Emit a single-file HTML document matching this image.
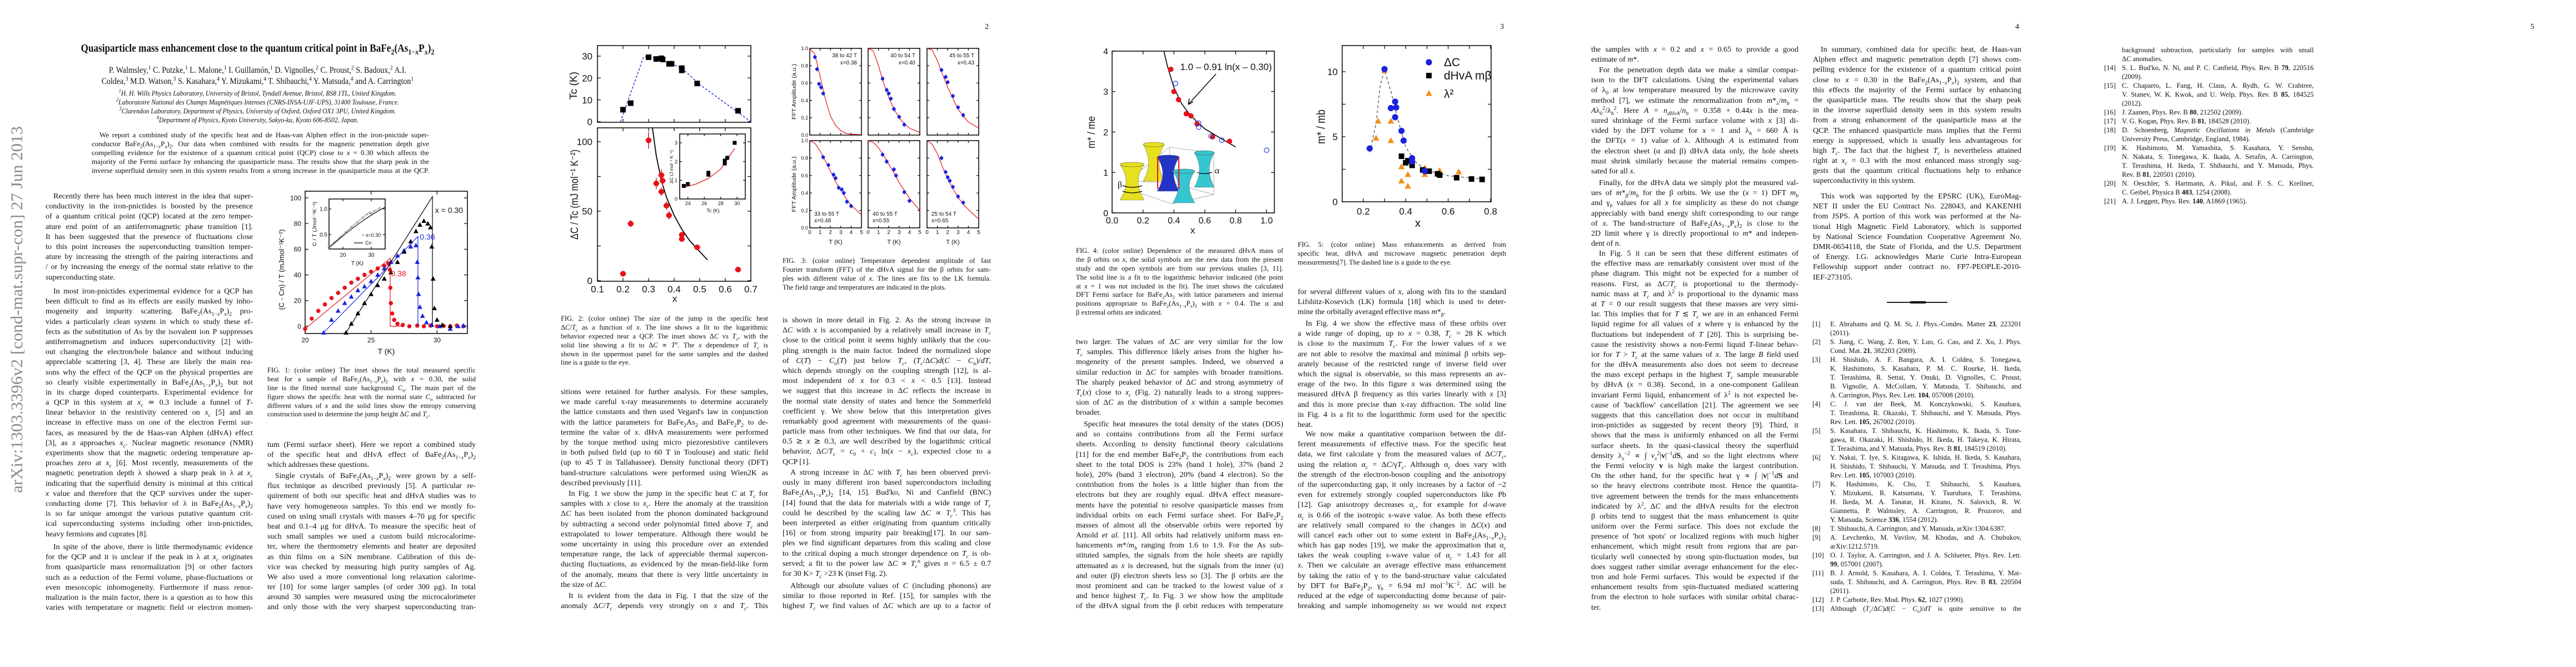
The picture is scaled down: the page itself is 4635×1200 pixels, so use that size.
<!DOCTYPE html>
<html><head><meta charset="utf-8"><title>Quasiparticle mass enhancement close to the quantum critical point</title>
<style>
html,body{margin:0;padding:0;background:#fff;}
body{width:4635px;height:1200px;position:relative;overflow:hidden;font-family:"Liberation Serif",serif;color:#111;}
.page{position:absolute;top:0;width:927px;height:1200px;}
.col{position:absolute;font-size:14px;line-height:18.2px;}
.col div{white-space:nowrap;text-align:justify;text-align-last:justify;height:18.2px;position:relative;}
.col div.e{text-align-last:left;}
.col div.i{text-indent:14px;}
.cap{font-size:12.5px;line-height:15.9px;}
.cap div{height:15.9px;}
.ref{font-size:12.5px;line-height:16px;}
.ref div{height:16px;}
.n{position:absolute;left:-32px;width:27px;text-align:right;text-indent:0;}
sub,sup{font-size:70%;line-height:0;}
.ctr{position:absolute;left:0;width:927px;text-align:center;white-space:nowrap;}
.pn{position:absolute;left:845px;top:41px;font-size:14px;}
svg.fig{position:absolute;left:0;top:0;}
svg text{font-family:"Liberation Sans",sans-serif;}
</style></head><body>

<!-- ================= PAGE 1 ================= -->
<div class="page" style="left:0">
<svg class="fig" id="p1" width="927" height="1200">
<text x="46" y="563" font-size="30" fill="#8a8a8a" text-anchor="middle" transform="rotate(-90 40 563)" textLength="660" lengthAdjust="spacingAndGlyphs" style="font-family:'Liberation Serif',serif">arXiv:1303.3396v2  [cond-mat.supr-con]  27 Jun 2013</text>
</svg>
<div class="ctr" style="top:76px;font-size:20px;font-weight:bold;transform:scaleX(0.86);">Quasiparticle mass enhancement close to the quantum critical point in BaFe<sub>2</sub>(As<sub>1−<i>x</i></sub>P<sub><i>x</i></sub>)<sub>2</sub></div>
<div class="ctr" style="top:117px;font-size:15.5px;line-height:20px;transform:scaleX(0.9);">P. Walmsley,<sup>1</sup> C. Putzke,<sup>1</sup> L. Malone,<sup>1</sup> I. Guillamón,<sup>1</sup> D. Vignolles,<sup>2</sup> C. Proust,<sup>2</sup> S. Badoux,<sup>2</sup> A.I.<br>Coldea,<sup>3</sup> M.D. Watson,<sup>3</sup> S. Kasahara,<sup>4</sup> Y. Mizukami,<sup>4</sup> T. Shibauchi,<sup>4</sup> Y. Matsuda,<sup>4</sup> and A. Carrington<sup>1</sup></div>
<div class="ctr" style="top:160px;font-size:13px;line-height:16px;font-style:italic;transform:scaleX(0.9);"><sup>1</sup>H. H. Wills Physics Laboratory, University of Bristol, Tyndall Avenue, Bristol, BS8 1TL, United Kingdom.<br><sup>2</sup>Laboratoire National des Champs Magnétiques Intenses (CNRS-INSA-UJF-UPS), 31400 Toulouse, France.<br><sup>3</sup>Clarendon Laboratory, Department of Physics, University of Oxford, Oxford OX1 3PU, United Kingdom.<br><sup>4</sup>Department of Physics, Kyoto University, Sakyo-ku, Kyoto 606-8502, Japan.</div>
<div class="col" style="left:165px;top:235px;width:607px;font-size:13px;line-height:16px;">
<div class="i" style="height:16px">We report a combined study of the specific heat and de Haas-van Alphen effect in the iron-pnictide super-</div>
<div style="height:16px">conductor BaFe<sub>2</sub>(As<sub>1−<i>x</i></sub>P<sub><i>x</i></sub>)<sub>2</sub>. Our data when combined with results for the magnetic penetration depth give</div>
<div style="height:16px">compelling evidence for the existence of a quantum critical point (QCP) close to <i>x</i> = 0.30 which affects the</div>
<div style="height:16px">majority of the Fermi surface by enhancing the quasiparticle mass. The results show that the sharp peak in the</div>
<div style="height:16px">inverse superfluid density seen in this system results from a strong increase in the quasiparticle mass at the QCP.</div>
</div>
<div class="col" style="left:82px;top:345px;width:373px;">
<div class="i">Recently there has been much interest in the idea that super-</div>
<div>conductivity in the iron-pnictides is boosted by the presence</div>
<div>of a quantum critical point (QCP) located at the zero temper-</div>
<div>ature end point of an antiferromagnetic phase transition [1].</div>
<div>It has been suggested that the presence of fluctuations close</div>
<div>to this point increases the superconducting transition temper-</div>
<div>ature by increasing the strength of the pairing interactions and</div>
<div>/ or by increasing the energy of the normal state relative to the</div>
<div class="e">superconducting state.</div>
</div>
<div class="col" style="left:82px;top:516px;width:373px;">
<div class="i">In most iron-pnictides experimental evidence for a QCP has</div>
<div>been difficult to find as its effects are easily masked by inho-</div>
<div>mogeneity and impurity scattering. BaFe<sub>2</sub>(As<sub>1−<i>x</i></sub>P<sub><i>x</i></sub>)<sub>2</sub> pro-</div>
<div>vides a particularly clean system in which to study these ef-</div>
<div>fects as the substitution of As by the isovalent ion P suppresses</div>
<div>antiferromagnetism and induces superconductivity [2] with-</div>
<div>out changing the electron/hole balance and without inducing</div>
<div>appreciable scattering [3, 4]. These are likely the main rea-</div>
<div>sons why the effect of the QCP on the physical properties are</div>
<div>so clearly visible experimentally in BaFe<sub>2</sub>(As<sub>1−<i>x</i></sub>P<sub><i>x</i></sub>)<sub>2</sub> but not</div>
<div>in its charge doped counterparts. Experimental evidence for</div>
<div>a QCP in this system at <i>x<sub>c</sub></i> ≃ 0.3 include a funnel of <i>T</i>-</div>
<div>linear behavior in the resistivity centered on <i>x<sub>c</sub></i> [5] and an</div>
<div>increase in effective mass on one of the electron Fermi sur-</div>
<div>faces, as measured by the de Haas-van Alphen (dHvA) effect</div>
<div>[3], as <i>x</i> approaches <i>x<sub>c</sub></i>. Nuclear magnetic resonance (NMR)</div>
<div>experiments show that the magnetic ordering temperature ap-</div>
<div>proaches zero at <i>x<sub>c</sub></i> [6]. Most recently, measurements of the</div>
<div>magnetic penetration depth λ showed a sharp peak in λ at <i>x<sub>c</sub></i></div>
<div>indicating that the superfluid density is minimal at this critical</div>
<div><i>x</i> value and therefore that the QCP survives under the super-</div>
<div>conducting dome [7]. This behavior of λ in BaFe<sub>2</sub>(As<sub>1−<i>x</i></sub>P<sub><i>x</i></sub>)<sub>2</sub></div>
<div>is so far unique amongst the various putative quantum crit-</div>
<div>ical superconducting systems including other iron-pnictides,</div>
<div class="e">heavy fermions and cuprates [8].</div>
</div>
<div class="col" style="left:82px;top:976px;width:373px;">
<div class="i">In spite of the above, there is little thermodynamic evidence</div>
<div>for the QCP and it is unclear if the peak in λ at <i>x<sub>c</sub></i> originates</div>
<div>from quasiparticle mass renormalization [9] or other factors</div>
<div>such as a reduction of the Fermi volume, phase-fluctuations or</div>
<div>even mesoscopic inhomogeneity. Furthermore if mass renor-</div>
<div>malization is the main factor, there is a question as to how this</div>
<div>varies with temperature or magnetic field or electron momen-</div>
</div>
<div class="col cap" style="left:481px;top:659px;width:375px;">
<div>FIG. 1: (color online) The inset shows the total measured specific</div>
<div>heat for a sample of BaFe<sub>2</sub>(As<sub>1−<i>x</i></sub>P<sub><i>x</i></sub>)<sub>2</sub> with <i>x</i> = 0.30, the solid</div>
<div>line is the fitted normal state background <i>C<sub>n</sub></i>. The main part of the</div>
<div>figure shows the specific heat with the normal state <i>C<sub>n</sub></i> subtracted for</div>
<div>different values of <i>x</i> and the solid lines show the entropy conserving</div>
<div class="e">construction used to determine the jump height Δ<i>C</i> and <i>T<sub>c</sub></i>.</div>
</div>
<div class="col" style="left:481px;top:792px;width:375px;">
<div>tum (Fermi surface sheet). Here we report a combined study</div>
<div>of the specific heat and dHvA effect of BaFe<sub>2</sub>(As<sub>1−<i>x</i></sub>P<sub><i>x</i></sub>)<sub>2</sub></div>
<div class="e">which addresses these questions.</div>
</div>
<div class="col" style="left:481px;top:848px;width:375px;">
<div class="i">Single crystals of BaFe<sub>2</sub>(As<sub>1−<i>x</i></sub>P<sub><i>x</i></sub>)<sub>2</sub> were grown by a self-</div>
<div>flux technique as described previously [5]. A particular re-</div>
<div>quirement of both our specific heat and dHvA studies was to</div>
<div>have very homogeneous samples. To this end we mostly fo-</div>
<div>cused on using small crystals with masses 4–70 μg for specific</div>
<div>heat and 0.1–4 μg for dHvA. To measure the specific heat of</div>
<div>such small samples we used a custom build microcalorime-</div>
<div>ter, where the thermometry elements and heater are deposited</div>
<div>as thin films on a SiN membrane. Calibration of this de-</div>
<div>vice was checked by measuring high purity samples of Ag.</div>
<div>We also used a more conventional long relaxation calorime-</div>
<div>ter [10] for some larger samples (of order 300 μg). In total</div>
<div>around 30 samples were measured using the microcalorimeter</div>
<div>and only those with the very sharpest superconducting tran-</div>
</div>
</div>

<!-- ================= PAGE 2 ================= -->
<div class="page" style="left:927px">
<svg class="fig" id="p2" width="927" height="1200"></svg>
<div class="pn">2</div>
<div class="col cap" style="left:82px;top:566px;width:373px;line-height:15.7px">
<div>FIG. 2: (color online) The size of the jump in the specific heat</div>
<div>Δ<i>C</i>/<i>T<sub>c</sub></i> as a function of <i>x</i>. The line shows a fit to the logarithmic</div>
<div>behavior expected near a QCP. The inset shows Δ<i>C</i> vs <i>T<sub>c</sub></i>, with the</div>
<div>solid line showing a fit to Δ<i>C</i> ∝ <i>T<sup>n</sup></i>. The <i>x</i> dependence of <i>T<sub>c</sub></i> is</div>
<div>shown in the uppermost panel for the same samples and the dashed</div>
<div class="e">line is a guide to the eye.</div>
</div>
<div class="col" style="left:82px;top:697px;width:373px;">
<div>sitions were retained for further analysis. For these samples,</div>
<div>we made careful x-ray measurements to determine accurately</div>
<div>the lattice constants and then used Vegard's law in conjunction</div>
<div>with the lattice parameters for BaFe<sub>2</sub>As<sub>2</sub> and BaFe<sub>2</sub>P<sub>2</sub> to de-</div>
<div>termine the value of <i>x</i>. dHvA measurements were performed</div>
<div>by the torque method using micro piezoresistive cantilevers</div>
<div>in both pulsed field (up to 60 T in Toulouse) and static field</div>
<div>(up to 45 T in Tallahassee). Density functional theory (DFT)</div>
<div>band-structure calculations were performed using Wien2K as</div>
<div class="e">described previously [11].</div>
</div>
<div class="col" style="left:82px;top:880px;width:373px;">
<div class="i">In Fig. 1 we show the jump in the specific heat <i>C</i> at <i>T<sub>c</sub></i> for</div>
<div>samples with <i>x</i> close to <i>x<sub>c</sub></i>. Here the anomaly at the transition</div>
<div>Δ<i>C</i> has been isolated from the phonon dominated background</div>
<div>by subtracting a second order polynomial fitted above <i>T<sub>c</sub></i> and</div>
<div>extrapolated to lower temperature. Although there would be</div>
<div>some uncertainty in using this procedure over an extended</div>
<div>temperature range, the lack of appreciable thermal supercon-</div>
<div>ducting fluctuations, as evidenced by the mean-field-like form</div>
<div>of the anomaly, means that there is very little uncertainty in</div>
<div class="e">the size of Δ<i>C</i>.</div>
</div>
<div class="col" style="left:82px;top:1064px;width:373px;">
<div class="i">It is evident from the data in Fig. 1 that the size of the</div>
<div>anomaly Δ<i>C</i>/<i>T<sub>c</sub></i> depends very strongly on <i>x</i> and <i>T<sub>c</sub></i>. This</div>
</div>
<div class="col cap" style="left:481px;top:461px;width:375px;line-height:16px">
<div>FIG. 3: (color online) Temperature dependent amplitude of fast</div>
<div>Fourier transform (FFT) of the dHvA signal for the β orbits for sam-</div>
<div>ples with different value of <i>x</i>. The lines are fits to the LK formula.</div>
<div class="e">The field range and temperatures are indicated in the plots.</div>
</div>
<div class="col" style="left:481px;top:568px;width:375px;">
<div>is shown in more detail in Fig. 2. As the strong increase in</div>
<div>Δ<i>C</i> with <i>x</i> is accompanied by a relatively small increase in <i>T<sub>c</sub></i></div>
<div>close to the critical point it seems highly unlikely that the cou-</div>
<div>pling strength is the main factor. Indeed the normalized slope</div>
<div>of <i>C</i>(<i>T</i>) − <i>C<sub>n</sub></i>(<i>T</i>) just below <i>T<sub>c</sub></i>, (<i>T<sub>c</sub></i>/Δ<i>C</i>)<i>d</i>(<i>C</i> − <i>C<sub>n</sub></i>)/<i>dT</i>,</div>
<div>which depends strongly on the coupling strength [12], is al-</div>
<div>most independent of <i>x</i> for 0.3 &lt; <i>x</i> &lt; 0.5 [13]. Instead</div>
<div>we suggest that this increase in Δ<i>C</i> reflects the increase in</div>
<div>the normal state density of states and hence the Sommerfeld</div>
<div>coefficient γ. We show below that this interpretation gives</div>
<div>remarkably good agreement with measurements of the quasi-</div>
<div>particle mass from other techniques. We find that our data, for</div>
<div>0.5 ≳ <i>x</i> ≳ 0.3, are well described by the logarithmic critical</div>
<div>behavior, Δ<i>C</i>/<i>T<sub>c</sub></i> = <i>c</i><sub>0</sub> + <i>c</i><sub>1</sub> ln(<i>x</i> − <i>x<sub>c</sub></i>), expected close to a</div>
<div class="e">QCP [1].</div>
</div>
<div class="col" style="left:481px;top:842px;width:375px;">
<div class="i">A strong increase in Δ<i>C</i> with <i>T<sub>c</sub></i> has been observed previ-</div>
<div>ously in many different iron based superconductors including</div>
<div>BaFe<sub>2</sub>(As<sub>1−<i>x</i></sub>P<sub><i>x</i></sub>)<sub>2</sub> [14, 15]. Bud'ko, Ni and Canfield (BNC)</div>
<div>[14] found that the data for materials with a wide range of <i>T<sub>c</sub></i></div>
<div>could be described by the scaling law Δ<i>C</i> ∝ <i>T<sub>c</sub></i><sup>3</sup>. This has</div>
<div>been interpreted as either originating from quantum critically</div>
<div>[16] or from strong impurity pair breaking[17]. In our sam-</div>
<div>ples we find significant departures from this scaling and close</div>
<div>to the critical doping a much stronger dependence on <i>T<sub>c</sub></i> is ob-</div>
<div>served; a fit to the power law Δ<i>C</i> ∝ <i>T<sub>c</sub><sup>n</sup></i> gives <i>n</i> = 6.5 ± 0.7</div>
<div class="e">for 30 K&gt; <i>T<sub>c</sub></i> &gt;23 K (inset Fig. 2).</div>
</div>
<div class="col" style="left:481px;top:1046px;width:375px;">
<div class="i">Although our absolute values of <i>C</i> (including phonons) are</div>
<div>similar to those reported in Ref. [15], for samples with the</div>
<div>highest <i>T<sub>c</sub></i> we find values of Δ<i>C</i> which are up to a factor of</div>
</div>
</div>

<!-- ================= PAGE 3 ================= -->
<div class="page" style="left:1854px">
<svg class="fig" id="p3" width="927" height="1200"></svg>
<div class="pn">3</div>
<div class="col cap" style="left:82px;top:443px;width:373px;line-height:16px">
<div>FIG. 4: (color online) Dependence of the measured dHvA mass of</div>
<div>the β orbits on <i>x</i>, the solid symbols are the new data from the present</div>
<div>study and the open symbols are from our previous studies [3, 11].</div>
<div>The solid line is a fit to the logarithmic behavior indicated (the point</div>
<div>at <i>x</i> = 1 was not included in the fit). The inset shows the calculated</div>
<div>DFT Fermi surface for BaFe<sub>2</sub>As<sub>2</sub> with lattice parameters and internal</div>
<div>positions appropriate to BaFe<sub>2</sub>(As<sub>1−<i>x</i></sub>P<sub><i>x</i></sub>)<sub>2</sub> with <i>x</i> = 0.4. The α and</div>
<div class="e">β extremal orbits are indicated.</div>
</div>
<div class="col" style="left:82px;top:607px;width:373px;">
<div>two larger. The values of Δ<i>C</i> are very similar for the low</div>
<div><i>T<sub>c</sub></i> samples. This difference likely arises from the higher ho-</div>
<div>mogeneity of the present samples. Indeed, we observed a</div>
<div>similar reduction in Δ<i>C</i> for samples with broader transitions.</div>
<div>The sharply peaked behavior of Δ<i>C</i> and strong asymmetry of</div>
<div><i>T<sub>c</sub></i>(<i>x</i>) close to <i>x<sub>c</sub></i> (Fig. 2) naturally leads to a strong suppres-</div>
<div>sion of Δ<i>C</i> as the distribution of <i>x</i> within a sample becomes</div>
<div class="e">broader.</div>
</div>
<div class="col" style="left:82px;top:755px;width:373px;">
<div class="i">Specific heat measures the total density of the states (DOS)</div>
<div>and so contains contributions from all the Fermi surface</div>
<div>sheets. According to density functional theory calculations</div>
<div>[11] for the end member BaFe<sub>2</sub>P<sub>2</sub> the contributions from each</div>
<div>sheet to the total DOS is 23% (band 1 hole), 37% (band 2</div>
<div>hole), 20% (band 3 electron), 20% (band 4 electron). So the</div>
<div>contribution from the holes is a little higher than from the</div>
<div>electrons but they are roughly equal. dHvA effect measure-</div>
<div>ments have the potential to resolve quasiparticle masses from</div>
<div>individual orbits on each Fermi surface sheet. For BaFe<sub>2</sub>P<sub>2</sub></div>
<div>masses of almost all the observable orbits were reported by</div>
<div>Arnold <i>et al.</i> [11]. All orbits had relatively uniform mass en-</div>
<div>hancements <i>m</i>*/<i>m<sub>b</sub></i> ranging from 1.6 to 1.9. For the As sub-</div>
<div>stituted samples, the signals from the hole sheets are rapidly</div>
<div>attenuated as <i>x</i> is decreased, but the signals from the inner (α)</div>
<div>and outer (β) electron sheets less so [3]. The β orbits are the</div>
<div>most prominent and can be tracked to the lowest value of <i>x</i></div>
<div>and hence highest <i>T<sub>c</sub></i>. In Fig. 3 we show how the amplitude</div>
<div>of the dHvA signal from the β orbit reduces with temperature</div>
</div>
<div class="col cap" style="left:481px;top:432px;width:375px;line-height:16px">
<div>FIG. 5: (color online) Mass enhancements as derived from</div>
<div>specific heat, dHvA and microwave magnetic penetration depth</div>
<div class="e">measurements[7]. The dashed line is a guide to the eye.</div>
</div>
<div class="col" style="left:481px;top:517px;width:375px;">
<div>for several different values of <i>x</i>, along with fits to the standard</div>
<div>Lifshitz-Kosevich (LK) formula [18] which is used to deter-</div>
<div class="e">mine the orbitally averaged effective mass <i>m</i>*<sub>β</sub>.</div>
</div>
<div class="col" style="left:481px;top:574px;width:375px;">
<div class="i">In Fig. 4 we show the effective mass of these orbits over</div>
<div>a wide range of doping, up to <i>x</i> = 0.38, <i>T<sub>c</sub></i> = 28 K which</div>
<div>is close to the maximum <i>T<sub>c</sub></i>. For the lower values of <i>x</i> we</div>
<div>are not able to resolve the maximal and minimal β orbits sep-</div>
<div>arately because of the restricted range of inverse field over</div>
<div>which the signal is observable, so this mass represents an av-</div>
<div>erage of the two. In this figure <i>x</i> was determined using the</div>
<div>measured dHvA β frequency as this varies linearly with <i>x</i> [3]</div>
<div>and this is more precise than x-ray diffraction. The solid line</div>
<div>in Fig. 4 is a fit to the logarithmic form used for the specific</div>
<div class="e">heat.</div>
</div>
<div class="col" style="left:481px;top:773px;width:375px;">
<div class="i">We now make a quantitative comparison between the dif-</div>
<div>ferent measurements of effective mass. For the specific heat</div>
<div>data, we first calculate γ from the measured values of Δ<i>C</i>/<i>T<sub>c</sub></i>,</div>
<div>using the relation α<sub><i>c</i></sub> = Δ<i>C</i>/γ<i>T<sub>c</sub></i>. Although α<sub><i>c</i></sub> does vary with</div>
<div>the strength of the electron-boson coupling and the anisotropy</div>
<div>of the superconducting gap, it only increases by a factor of ~2</div>
<div>even for extremely strongly coupled superconductors like Pb</div>
<div>[12]. Gap anisotropy decreases α<sub><i>c</i></sub>, for example for <i>d</i>-wave</div>
<div>α<sub><i>c</i></sub> is 0.66 of the isotropic <i>s</i>-wave value. As both these effects</div>
<div>are relatively small compared to the changes in Δ<i>C</i>(<i>x</i>) and</div>
<div>will cancel each other out to some extent in BaFe<sub>2</sub>(As<sub>1−<i>x</i></sub>P<sub><i>x</i></sub>)<sub>2</sub></div>
<div>which has gap nodes [19], we make the approximation that α<sub><i>c</i></sub></div>
<div>takes the weak coupling <i>s</i>-wave value of α<sub><i>c</i></sub> = 1.43 for all</div>
<div><i>x</i>. Then we calculate an average effective mass enhancement</div>
<div>by taking the ratio of γ to the band-structure value calculated</div>
<div>by DFT for BaFe<sub>2</sub>P<sub>2</sub>, γ<sub><i>b</i></sub> = 6.94 mJ mol<sup>−1</sup>K<sup>−2</sup>. Δ<i>C</i> will be</div>
<div>reduced at the edge of superconducting dome because of pair-</div>
<div>breaking and sample inhomogeneity so we would not expect</div>
</div>
</div>

<!-- ================= PAGE 4 ================= -->
<div class="page" style="left:2781px">
<div class="pn">4</div>
<div class="col" style="left:82px;top:81px;width:373px;">
<div>the samples with <i>x</i> = 0.2 and <i>x</i> = 0.65 to provide a good</div>
<div class="e">estimate of <i>m</i>*.</div>
</div>
<div class="col" style="left:82px;top:118px;width:373px;">
<div class="i">For the penetration depth data we make a similar compar-</div>
<div>ison to the DFT calculations. Using the experimental values</div>
<div>of λ<sub>0</sub> at low temperature measured by the microwave cavity</div>
<div>method [7], we estimate the renormalization from <i>m</i>*<sub>λ</sub>/<i>m<sub>b</sub></i> =</div>
<div><i>A</i>λ<sub>0</sub><sup>2</sup>/λ<sub><i>b</i></sub><sup>2</sup>. Here <i>A</i> = <i>n<sub>dHvA</sub></i>/<i>n<sub>b</sub></i> = 0.358 + 0.44<i>x</i> is the mea-</div>
<div>sured shrinkage of the Fermi surface volume with <i>x</i> [3] di-</div>
<div>vided by the DFT volume for <i>x</i> = 1 and λ<sub><i>b</i></sub> = 660 Å is</div>
<div>the DFT(<i>x</i> = 1) value of λ. Although <i>A</i> is estimated from</div>
<div>the electron sheet (α and β) dHvA data only, the hole sheets</div>
<div>must shrink similarly because the material remains compen-</div>
<div class="e">sated for all <i>x</i>.</div>
</div>
<div class="col" style="left:82px;top:321px;width:373px;">
<div class="i">Finally, for the dHvA data we simply plot the measured val-</div>
<div>ues of <i>m</i>*<sub>β</sub>/<i>m<sub>b</sub></i> for the β orbits. We use the (<i>x</i> = 1) DFT <i>m<sub>b</sub></i></div>
<div>and γ<sub><i>b</i></sub> values for all <i>x</i> for simplicity as these do not change</div>
<div>appreciably with band energy shift corresponding to our range</div>
<div>of <i>x</i>. The band-structure of BaFe<sub>2</sub>(As<sub>1−<i>x</i></sub>P<sub><i>x</i></sub>)<sub>2</sub> is close to the</div>
<div>2D limit where γ is directly proportional to <i>m</i>* and indepen-</div>
<div class="e">dent of <i>n</i>.</div>
</div>
<div class="col" style="left:82px;top:448px;width:373px;">
<div class="i">In Fig. 5 it can be seen that these different estimates of</div>
<div>the effective mass are remarkably consistent over most of the</div>
<div>phase diagram. This might not be expected for a number of</div>
<div>reasons. First, as Δ<i>C</i>/<i>T<sub>c</sub></i> is proportional to the thermody-</div>
<div>namic mass at <i>T<sub>c</sub></i> and λ<sup>2</sup> is proportional to the dynamic mass</div>
<div>at <i>T</i> = 0 our result suggests that these masses are very simi-</div>
<div>lar. This implies that for <i>T</i> ≲ <i>T<sub>c</sub></i> we are in an enhanced Fermi</div>
<div>liquid regime for all values of <i>x</i> where γ is enhanced by the</div>
<div>fluctuations but independent of <i>T</i> [20]. This is surprising be-</div>
<div>cause the resistivity shows a non-Fermi liquid <i>T</i>-linear behav-</div>
<div>ior for <i>T</i> &gt; <i>T<sub>c</sub></i> at the same values of <i>x</i>. The large <i>B</i> field used</div>
<div>for the dHvA measurements also does not seem to decrease</div>
<div>the mass except perhaps in the highest <i>T<sub>c</sub></i> sample measurable</div>
<div>by dHvA (<i>x</i> = 0.38). Second, in a one-component Galilean</div>
<div>invariant Fermi liquid, enhancement of λ<sup>2</sup> is not expected be-</div>
<div>cause of 'backflow' cancellation [21]. The agreement we see</div>
<div>suggests that this cancellation does not occur in multiband</div>
<div>iron-pnictides as suggested by recent theory [9]. Third, it</div>
<div>shows that the mass is uniformly enhanced on all the Fermi</div>
<div>surface sheets. In the quasi-classical theory the superfluid</div>
<div>density λ<sub><i>x</i></sub><sup>−2</sup> ∝ ∫ <i>v<sub>x</sub></i><sup>2</sup>|<b>v</b>|<sup>−1</sup><i>d</i><b>S</b>, and so the light electrons where</div>
<div>the Fermi velocity <b>v</b> is high make the largest contribution.</div>
<div>On the other hand, for the specific heat γ ∝ ∫ |<b>v</b>|<sup>−1</sup><i>d</i><b>S</b> and</div>
<div>so the heavy electrons contribute most. Hence the quantita-</div>
<div>tive agreement between the trends for the mass enhancements</div>
<div>indicated by λ<sup>2</sup>, Δ<i>C</i> and the dHvA results for the electron</div>
<div>β orbits tend to suggest that the mass enhancement is quite</div>
<div>uniform over the Fermi surface. This does not exclude the</div>
<div>presence of 'hot spots' or localized regions with much higher</div>
<div>enhancement, which might result from regions that are par-</div>
<div>ticularly well connected by strong spin-fluctuation modes, but</div>
<div>does suggest rather similar average enhancement for the elec-</div>
<div>tron and hole Fermi surfaces. This would be expected if the</div>
<div>enhancement results from spin-fluctuated mediated scattering</div>
<div>from the electron to hole surfaces with similar orbital charac-</div>
<div class="e">ter.</div>
</div>
<div class="col" style="left:481px;top:81px;width:375px;">
<div class="i">In summary, combined data for specific heat, de Haas-van</div>
<div>Alphen effect and magnetic penetration depth [7] shows com-</div>
<div>pelling evidence for the existence of a quantum critical point</div>
<div>close to <i>x</i> = 0.30 in the BaFe<sub>2</sub>(As<sub>1−<i>x</i></sub>P<sub><i>x</i></sub>)<sub>2</sub> system, and that</div>
<div>this effects the majority of the Fermi surface by enhancing</div>
<div>the quasiparticle mass. The results show that the sharp peak</div>
<div>in the inverse superfluid density seen in this system results</div>
<div>from a strong enhancement of the quasiparticle mass at the</div>
<div>QCP. The enhanced quasiparticle mass implies that the Fermi</div>
<div>energy is suppressed, which is usually less advantageous for</div>
<div>high <i>T<sub>c</sub></i>. The fact that the highest <i>T<sub>c</sub></i> is nevertheless attained</div>
<div>right at <i>x<sub>c</sub></i> = 0.3 with the most enhanced mass strongly sug-</div>
<div>gests that the quantum critical fluctuations help to enhance</div>
<div class="e">superconductivity in this system.</div>
</div>
<div class="col" style="left:481px;top:345px;width:375px;">
<div class="i">This work was supported by the EPSRC (UK), EuroMag-</div>
<div>NET II under the EU Contract No. 228043, and KAKENHI</div>
<div>from JSPS. A portion of this work was performed at the Na-</div>
<div>tional High Magnetic Field Laboratory, which is supported</div>
<div>by National Science Foundation Cooperative Agreement No.</div>
<div>DMR-0654118, the State of Florida, and the U.S. Department</div>
<div>of Energy. I.G. acknowledges Marie Curie Intra-European</div>
<div>Fellowship support under contract no. FP7-PEOPLE-2010-</div>
<div class="e">IEF-273105.</div>
</div>
<div style="position:absolute;left:614px;top:543px;width:109px;height:1.5px;background:#222"></div>
<div style="position:absolute;left:656px;top:542px;width:28px;height:3.5px;background:#000"></div>
<div class="col ref" style="left:512px;top:575px;width:344px;">
<div><span class="n">[1]</span>E. Abrahams and Q. M. Si, J. Phys.-Condes. Matter <b>23</b>, 223201</div>
<div class="e">(2011).</div>
<div><span class="n">[2]</span>S. Jiang, C. Wang, Z. Ren, Y. Luo, G. Cao, and Z. Xu, J. Phys.</div>
<div class="e">Cond. Mat. <b>21</b>, 382203 (2009).</div>
<div><span class="n">[3]</span>H. Shishido, A. F. Bangura, A. I. Coldea, S. Tonegawa,</div>
<div>K. Hashimoto, S. Kasahara, P. M. C. Rourke, H. Ikeda,</div>
<div>T. Terashima, R. Settai, Y. Onuki, D. Vignolles, C. Proust,</div>
<div>B. Vignolle, A. McCollam, Y. Matsuda, T. Shibauchi, and</div>
<div class="e">A. Carrington, Phys. Rev. Lett. <b>104</b>, 057008 (2010).</div>
<div><span class="n">[4]</span>C. J. van der Beek, M. Konczykowski, S. Kasahara,</div>
<div>T. Terashima, R. Okazaki, T. Shibauchi, and Y. Matsuda, Phys.</div>
<div class="e">Rev. Lett. <b>105</b>, 267002 (2010).</div>
<div><span class="n">[5]</span>S. Kasahara, T. Shibauchi, K. Hashimoto, K. Ikada, S. Tone-</div>
<div>gawa, R. Okazaki, H. Shishido, H. Ikeda, H. Takeya, K. Hirata,</div>
<div class="e">T. Terashima, and Y. Matsuda, Phys. Rev. B <b>81</b>, 184519 (2010).</div>
<div><span class="n">[6]</span>Y. Nakai, T. Iye, S. Kitagawa, K. Ishida, H. Ikeda, S. Kasahara,</div>
<div>H. Shishido, T. Shibauchi, Y. Matsuda, and T. Terashima, Phys.</div>
<div class="e">Rev. Lett. <b>105</b>, 107003 (2010).</div>
<div><span class="n">[7]</span>K. Hashimoto, K. Cho, T. Shibauchi, S. Kasahara,</div>
<div>Y. Mizukami, R. Katsumata, Y. Tsuruhara, T. Terashima,</div>
<div>H. Ikeda, M. A. Tanatar, H. Kitano, N. Salovich, R. W.</div>
<div>Giannetta, P. Walmsley, A. Carrington, R. Prozorov, and</div>
<div class="e">Y. Matsuda, Science <b>336</b>, 1554 (2012).</div>
<div class="e"><span class="n">[8]</span>T. Shibauchi, A. Carrington, and Y. Matsuda, arXiv:1304.6387.</div>
<div><span class="n">[9]</span>A. Levchenko, M. Vavilov, M. Khodas, and A. Chubukov,</div>
<div class="e">arXiv:1212.5719.</div>
<div><span class="n">[10]</span>O. J. Taylor, A. Carrington, and J. A. Schlueter, Phys. Rev. Lett.</div>
<div class="e"><b>99</b>, 057001 (2007).</div>
<div><span class="n">[11]</span>B. J. Arnold, S. Kasahara, A. I. Coldea, T. Terashima, Y. Mat-</div>
<div>suda, T. Shibauchi, and A. Carrington, Phys. Rev. B <b>83</b>, 220504</div>
<div class="e">(2011).</div>
<div class="e"><span class="n">[12]</span>J. P. Carbotte, Rev. Mod. Phys. <b>62</b>, 1027 (1990).</div>
<div><span class="n">[13]</span>Although (<i>T<sub>c</sub></i>/Δ<i>C</i>)<i>d</i>(<i>C</i> − <i>C<sub>n</sub></i>)/<i>dT</i> is quite sensitive to the</div>
</div>
</div>

<!-- ================= PAGE 5 ================= -->
<div class="page" style="left:3708px">
<div class="pn">5</div>
<div class="col ref" style="left:110px;top:83px;width:345px;line-height:15.8px">
<div>background subtraction, particularly for samples with small</div>
<div class="e">Δ<i>C</i> anomalies.</div>
<div><span class="n">[14]</span>S. L. Bud'ko, N. Ni, and P. C. Canfield, Phys. Rev. B <b>79</b>, 220516</div>
<div class="e">(2009).</div>
<div><span class="n">[15]</span>C. Chaparro, L. Fang, H. Claus, A. Rydh, G. W. Crabtree,</div>
<div>V. Stanev, W. K. Kwok, and U. Welp, Phys. Rev. B <b>85</b>, 184525</div>
<div class="e">(2012).</div>
<div class="e"><span class="n">[16]</span>J. Zaanen, Phys. Rev. B <b>80</b>, 212502 (2009).</div>
<div class="e"><span class="n">[17]</span>V. G. Kogan, Phys. Rev. B <b>81</b>, 184528 (2010).</div>
<div><span class="n">[18]</span>D. Schoenberg, <i>Magnetic Oscillations in Metals</i> (Cambridge</div>
<div class="e">University Press, Cambridge, England, 1984).</div>
<div><span class="n">[19]</span>K. Hashimoto, M. Yamashita, S. Kasahara, Y. Senshu,</div>
<div>N. Nakata, S. Tonegawa, K. Ikada, A. Serafin, A. Carrington,</div>
<div>T. Terashima, H. Ikeda, T. Shibauchi, and Y. Matsuda, Phys.</div>
<div class="e">Rev. B <b>81</b>, 220501 (2010).</div>
<div><span class="n">[20]</span>N. Oeschler, S. Hartmann, A. Pikul, and F. S. C. Krellner,</div>
<div class="e">C. Geibel, Physica B <b>403</b>, 1254 (2008).</div>
<div class="e"><span class="n">[21]</span>A. J. Leggett, Phys. Rev. <b>140</b>, A1869 (1965).</div>
</div>
</div>

<script>
// ---------------- DATA ----------------
// Fig 1: (C - Cn)/T vs T
const fig1_T_038 = [20.0,20.5,21.0,21.5,22.0,22.5,23.0,23.5,24.0,24.5,25.0,25.5,26.0,26.3,26.42,26.46,26.5,26.6,26.75,27.0,27.4,27.9,28.5,29.0,29.5,30.0,30.5,31.0,31.5,32.0];
const fig1_C_038 = [-2,6,12,17,22,26,30,34,37,40,42.5,45,47,49,44,30,18,10,5,2,1,0,0.5,0,0.5,0,0.3,0,0.5,0];
const fig1_T_036 = [21.4,22.0,22.5,23.0,23.5,24.0,24.5,25.0,25.5,26.0,26.5,27.0,27.5,28.0,28.4,28.5,28.55,28.6,28.7,28.9,29.2,29.6,30.2,31.0,31.6,32.0];
const fig1_C_036 = [-5,5,12,18,23,28,31,35,40,45,50,55,59,62,63,50,38,25,15,8,3,1,0,-2,0,0.5];
const fig1_T_030 = [23.1,23.5,24.0,24.5,25.0,25.5,26.0,26.5,27.0,27.5,28.0,28.4,28.7,29.0,29.3,29.5,29.6,29.7,29.8,30.0,30.4,31.0];
const fig1_C_030 = [-5,2,10,18,25,32,37,42,50,58,66,74,79,82,80,77,62,37,14,5,1,0];
const fig1_con_T_030 = [23.1,29.65,29.65];
const fig1_con_C_030 = [-5,101,0];
const fig1_con_T_036 = [21.4,28.55,28.55];
const fig1_con_C_036 = [-5,70,0];
const fig1_con_T_038 = [20.0,26.45,26.45,27.3];
const fig1_con_C_038 = [-2,53,0,0];
const fig1_xticks = [20,25,30];
const fig1_xtickLabels = ['20','25','30'];
const fig1_yticks = [0,20,40,60,80,100];
const fig1_ytickLabels = ['0','20','40','60','80','100'];
const fig1in_T_meas = [15,17,19,21,23,25,27,28.5,29.5,30,31,33];
const fig1in_C_meas = [0.26,0.35,0.45,0.55,0.65,0.74,0.83,0.9,0.93,0.91,0.96,1.02];
const fig1in_T_cn = [15,18,21,24,27,30,33,34.8];
const fig1in_C_cn = [0.24,0.38,0.52,0.65,0.77,0.88,0.98,1.03];
const fig1in_xticks = [20,30];
const fig1in_yticks = [0.5,1.0];
const fig1in_ytickLabels = ['0.5','1.0'];

// Fig 2
const fig2_tc_x = [0.20,0.23,0.30,0.33,0.35,0.355,0.38,0.39,0.43,0.43,0.49,0.65];
const fig2_tc_val = [5.5,8.5,29.5,28.7,29,28.5,26.5,26.5,24.5,23.5,17.5,5];
const fig2_guide_x = [0.19,0.28,0.30,0.38,0.43,0.50,0.70];
const fig2_guide_tc = [0,29.5,29.8,27,24.5,17,0];
const fig2_dc_x = [0.30,0.20,0.23,0.33,0.35,0.355,0.35,0.37,0.38,0.43,0.43,0.49,0.65];
const fig2_dc_val = [101,5,41,70,76,72,64,54,47,33,30,24,8];
const fig2_dc_err = [6,1.5,2.5,4,4,4,3,3,3,2,2,1.5,1.5];
const fig2_fit_x = [0.315,0.33,0.35,0.37,0.40,0.43,0.46,0.49,0.53];
const fig2_fit_y = [110,90,72,60,47,37,29,23,15];
const fig2_xticks = [0.1,0.2,0.3,0.4,0.5,0.6,0.7];
const fig2_xtickLabels = ['0.1','0.2','0.3','0.4','0.5','0.6','0.7'];
const fig2_tcTicks = [0,10,20,30];
const fig2_tcTickLabels = ['0','10','20','30'];
const fig2_dcTicks = [0,25,50,75,100];
const fig2_dcTickLabels = ['0','','50','','100'];
const fig2in_tc = [23.5,24.0,26.5,26.5,28.5,28.5,28.8,29.7];
const fig2in_dc = [0.7,0.8,1.3,1.4,1.9,2.05,2.2,3.0];
const fig2in_fit_tc = [23.5,25,26.5,28,29.7];
const fig2in_fit_dc = [0.62,0.8,1.1,1.6,2.7];
const fig2in_xticks = [24,26,28,30];
const fig2in_yticks = [0,1,2,3];

// Fig 3: FFT amplitude vs T, six panels
const fig3_field = ['38 to 42 T','40 to 54 T','45 to 55 T','33 to 55 T','40 to 55 T','25 to 54 T'];
const fig3_xlabel = ['x=0.38','x=0.40','x=0.43','x=0.48','x=0.55','x=0.65'];
const fig3_pts_T = [
  [0.5,0.7,0.9,1.1,1.3],
  [1.4,1.8,2.0,2.2,2.5,3.0,3.5],
  [1.4,1.8,2.0,2.5,3.0,3.5],
  [1.3,1.8,2.3,2.5,2.8,3.1,3.3,3.6,4.0],
  [1.4,1.8,2.5,2.7,3.5,4.0],
  [1.4,1.8,2.0,2.2,2.5,3.0,3.5]];
const fig3_pts_A = [
  [0.90,0.76,0.59,0.55,0.48],
  [0.65,0.52,0.48,0.42,0.30,0.21,0.12],
  [0.75,0.67,0.61,0.45,0.32,0.23],
  [0.81,0.72,0.61,0.57,0.46,0.44,0.40,0.30,0.25],
  [0.84,0.76,0.67,0.60,0.41,0.31],
  [0.80,0.64,0.58,0.54,0.47,0.36,0.29]];
const fig3_fit_T = [0,0.5,1,1.5,2,2.5,3,3.5,4,5];
const fig3_fit_A = [
  [1,0.93,0.68,0.42,0.22,0.11,0.05,0.02,0.01,0.005],
  [1,0.97,0.80,0.60,0.43,0.30,0.20,0.13,0.08,0.03],
  [1,0.98,0.86,0.70,0.55,0.42,0.30,0.22,0.15,0.08],
  [1,0.97,0.88,0.77,0.65,0.53,0.43,0.34,0.26,0.15],
  [1,0.98,0.92,0.83,0.73,0.63,0.52,0.43,0.34,0.20],
  [1,0.96,0.85,0.70,0.56,0.45,0.35,0.27,0.21,0.10]];
const fig3_xticks = [0,1,2,3,4,5];
const fig3_yticks = [0,0.2,0.4,0.6,0.8,1.0];
const fig3_ytickLabels = ['0.0','0.2','0.4','0.6','0.8','1.0'];

// Fig 4: m*/me vs x
const fig4_new_x = [0.38,0.40,0.43,0.48,0.51,0.55,0.65,0.76];
const fig4_new_m = [3.55,3.0,2.8,2.45,2.4,2.2,1.88,1.77];
const fig4_old_x = [0.41,0.56,0.56,0.64,0.71,1.0];
const fig4_old_m = [3.2,2.22,2.12,1.9,1.8,1.55];
const fig4_fit_x = [0.335,0.36,0.40,0.45,0.50,0.55,0.60,0.70,0.80];
const fig4_fit_m = [4.0,3.6,3.1,2.7,2.45,2.25,2.08,1.85,1.63];
const fig4_xticks = [0,0.2,0.4,0.6,0.8,1.0];
const fig4_xtickLabels = ['0.0','0.2','0.4','0.6','0.8','1.0'];
const fig4_yticks = [0,1,2,3,4];
const fig4_ytickLabels = ['0','1','2','3','4'];

// Fig 5: m*/mb vs x
const fig5_dc_x = [0.23,0.30,0.33,0.35,0.355,0.35,0.38,0.39,0.43,0.43,0.49];
const fig5_dc_m = [4.1,10.2,7.2,7.7,7.25,6.5,5.45,4.7,3.35,3.1,2.35];
const fig5_dhva_x = [0.38,0.40,0.41,0.43,0.48,0.51,0.55,0.56,0.64,0.71,0.76];
const fig5_dhva_m = [3.5,3.0,3.15,2.8,2.45,2.35,2.15,2.05,1.85,1.75,1.72];
const fig5_lam_x = [0.26,0.27,0.30,0.33,0.33,0.38,0.38,0.41,0.41,0.49,0.49,0.56,0.65];
const fig5_lam_m = [4.9,6.2,10.1,6.2,4.7,2.7,1.6,2.1,1.2,2.6,2.1,2.4,2.3];
const fig5_guide_x = [0.23,0.26,0.28,0.30,0.33,0.36,0.40,0.45,0.50,0.60,0.76];
const fig5_guide_m = [3.8,6.0,9.0,10.1,8.5,6.5,4.2,3.0,2.4,2.0,1.75];
const fig5_xticks = [0.2,0.3,0.4,0.5,0.6,0.7,0.8];
const fig5_xtickLabels = ['0.2','','0.4','','0.6','','0.8'];
const fig5_yticks = [0,2.5,5,7.5,10];
const fig5_ytickLabels = ['0','','5','','10'];

// ---------------- HELPERS ----------------
const NS = 'http://www.w3.org/2000/svg';
function mk(tag, attrs, parent) {
  const e = document.createElementNS(NS, tag);
  for (const k in attrs) e.setAttribute(k, attrs[k]);
  parent.appendChild(e);
  return e;
}
function lin(d0, d1, r0, r1) { return v => r0 + (v - d0) * (r1 - r0) / (d1 - d0); }
function txt(parent, x, y, s, fs, anchor, extra) {
  const e = mk('text', Object.assign({x: x, y: y, 'font-size': fs, 'text-anchor': anchor || 'middle', fill: '#111'}, extra || {}), parent);
  e.textContent = s;
  return e;
}
function frame(p, x0, y0, x1, y1, name) {
  const r = mk('rect', {x: x0, y: y0, width: x1 - x0, height: y1 - y0, fill: 'none', stroke: '#000', 'stroke-width': 1.5}, p);
  
  
  return r;
}
function xTicks(p, vals, labels, sx, yTop, yBot, len, ly, fs, name) {
  vals.forEach((v, i) => {
    const a = mk('line', {x1: sx(v), x2: sx(v), y1: yBot, y2: yBot - len, stroke: '#000', 'stroke-width': 1.2}, p);
    
    
    const b = mk('line', {x1: sx(v), x2: sx(v), y1: yTop, y2: yTop + len, stroke: '#000', 'stroke-width': 1.2}, p);
    
    
    if (labels && labels[i]) {
      const t = txt(p, sx(v), ly, labels[i], fs);
      
      
    }
  });
}
function yTicks(p, vals, labels, sy, xL, xR, len, lx, fs, name) {
  vals.forEach((v, i) => {
    const a = mk('line', {x1: xL, x2: xL + len, y1: sy(v), y2: sy(v), stroke: '#000', 'stroke-width': 1.2}, p);
    
    
    const b = mk('line', {x1: xR, x2: xR - len, y1: sy(v), y2: sy(v), stroke: '#000', 'stroke-width': 1.2}, p);
    
    
    if (labels && labels[i]) {
      const t = txt(p, lx, sy(v) + fs * 0.36, labels[i], fs, 'end');
      
      
    }
  });
}
function poly(p, xs, ys, sx, sy, color, w, dash, name) {
  const d = xs.map((v, i) => (i ? 'L' : 'M') + sx(v).toFixed(1) + ',' + sy(ys[i]).toFixed(1)).join(' ');
  const e = mk('path', {d: d, fill: 'none', stroke: color, 'stroke-width': w}, p);
  if (dash) e.setAttribute('stroke-dasharray', dash);
  
  
  return e;
}
function marker(p, cx, cy, shape, color, s, filled) {
  const f = filled ? color : 'none';
  if (shape === 'c') return mk('circle', {cx: cx, cy: cy, r: s, fill: f, stroke: color, 'stroke-width': 1.2}, p);
  if (shape === 's') return mk('rect', {x: cx - s, y: cy - s, width: 2 * s, height: 2 * s, fill: f, stroke: color}, p);
  return mk('path', {d: 'M' + cx + ',' + (cy - s) + ' L' + (cx + s) + ',' + (cy + s * 0.8) + ' L' + (cx - s) + ',' + (cy + s * 0.8) + 'Z', fill: f, stroke: color}, p);
}
function scatter(p, xs, ys, sx, sy, shape, color, s, filled, name) {
  xs.forEach((v, i) => {
    const m = marker(p, sx(v), sy(ys[i]), shape, color, s, filled);
    
    
  });
}
function rotLabel(p, x, y, s, fs, len, name) {
  const t = mk('text', {x: x, y: y, 'font-size': fs, 'text-anchor': 'middle', fill: '#111', transform: 'rotate(-90 ' + x + ' ' + y + ')', textLength: len, lengthAdjust: 'spacingAndGlyphs'}, p);
  t.textContent = s;
  
  
  return t;
}

const RED = '#e5141b', BLUE = '#1a22e0', ORANGE = '#f2901a';

// ---------------- FIG 1 ----------------
(function () {
  const p = document.getElementById('p1');
  const g = mk('g', {}, p);
  
  
  const sx = lin(20, 32.3, 549, 841), sy = lin(0, 100, 587, 356);
  frame(g, 549, 344, 841, 600, 'fig1-plot-frame');
  xTicks(g, fig1_xticks, fig1_xtickLabels, sx, 344, 600, 6, 616, 12, 'fig1-x-axis');
  yTicks(g, fig1_yticks, fig1_ytickLabels, sy, 549, 841, 6, 542, 12, 'fig1-y-axis');
  const xt = txt(g, 695, 637, 'T (K)', 14);
  
  
  rotLabel(g, 511, 485, '(C - Cn) / T (mJmol⁻¹K⁻²)', 13, 145, 'fig1-y-axis-title');
  scatter(g, fig1_T_038, fig1_C_038, sx, sy, 'c', RED, 3.2, true, 'fig1-point-x038');
  scatter(g, fig1_T_036, fig1_C_036, sx, sy, 't', BLUE, 3.6, true, 'fig1-point-x036');
  scatter(g, fig1_T_030, fig1_C_030, sx, sy, 't', '#000', 3.6, true, 'fig1-point-x030');
  poly(g, fig1_con_T_038, fig1_con_C_038, sx, sy, RED, 1.2, null, 'fig1-construction-x038');
  poly(g, fig1_con_T_036, fig1_con_C_036, sx, sy, BLUE, 1.2, null, 'fig1-construction-x036');
  poly(g, fig1_con_T_030, fig1_con_C_030, sx, sy, '#000', 1.2, null, 'fig1-construction-x030');
  const l1 = txt(g, 808, 383, 'x = 0.30', 14);
  
  
  const l2 = txt(g, 769, 431, '0.36', 14, 'middle', {fill: BLUE});
  
  
  const l3 = txt(g, 717, 497, '0.38', 14, 'middle', {fill: RED});
  
  
  // inset
  const gi = mk('g', {}, g);
  
  
  const ix = lin(20, 30, 617, 668), iy = lin(0.5, 1.0, 422, 376);
  mk('rect', {x: 592, y: 358, width: 101, height: 90, fill: '#fff'}, gi);
  frame(gi, 592, 358, 693, 448, 'fig1-inset-frame');
  xTicks(gi, fig1in_xticks, ['20', '30'], ix, 358, 448, 4, 462, 10, 'fig1-inset-x-axis');
  yTicks(gi, fig1in_yticks, fig1in_ytickLabels, iy, 592, 693, 4, 589, 10, 'fig1-inset-y-axis');
  const it = txt(gi, 643, 477, 'T (K)', 10);
  
  
  rotLabel(gi, 569, 403, 'C / T (Jmol⁻¹K⁻²)', 9, 80, 'fig1-inset-y-title');
  scatter(gi, fig1in_T_meas, fig1in_C_meas, ix, iy, 'c', '#aaa', 1.4, false, 'fig1-inset-point');
  poly(gi, fig1in_T_meas, fig1in_C_meas, ix, iy, '#aaa', 1.5, null, 'fig1-inset-measured-line');
  poly(gi, fig1in_T_cn, fig1in_C_cn, ix, iy, '#000', 1.2, null, 'fig1-inset-cn-line');
  const lc = mk('circle', {cx: 653, cy: 423, r: 1.8, fill: 'none', stroke: '#aaa'}, gi);
  
  
  const lt = txt(gi, 658, 426, 'x=0.30', 9, 'start');
  
  
  const ll = mk('line', {x1: 637, x2: 653, y1: 437, y2: 437, stroke: '#000', 'stroke-width': 1.2}, gi);
  
  
  const lt2 = txt(gi, 657, 440, 'Cn', 9, 'start');
  
  
})();

// ---------------- FIG 2 ----------------
(function () {
  const p = document.getElementById('p2');
  const g = mk('g', {}, p);
  
  
  const sx = lin(0.1, 0.7, 148, 424);
  // top panel
  const syT = lin(0, 30, 219, 101);
  frame(g, 148, 82, 424, 220, 'fig2-tc-frame');
  xTicks(g, fig2_xticks, null, sx, 82, 220, 6, 0, 0, 'fig2-tc-x-axis');
  yTicks(g, fig2_tcTicks, fig2_tcTickLabels, syT, 148, 424, 6, 139, 17, 'fig2-tc-y-axis');
  rotLabel(g, 111, 154, 'Tc (K)', 18, 50, 'fig2-tc-y-title');
  poly(g, fig2_guide_x, fig2_guide_tc, sx, syT, '#2038d8', 1.5, '4,3', 'fig2-tc-guide-line');
  scatter(g, fig2_tc_x, fig2_tc_val, sx, syT, 's', '#000', 4.5, true, 'fig2-tc-point');
  // bottom panel
  const syD = lin(0, 100, 505, 255);
  frame(g, 148, 230, 424, 506, 'fig2-dc-frame');
  xTicks(g, fig2_xticks, fig2_xtickLabels, sx, 230, 506, 6, 526, 17, 'fig2-x-axis');
  yTicks(g, fig2_dcTicks, fig2_dcTickLabels, syD, 148, 424, 6, 139, 17, 'fig2-dc-y-axis');
  const xt = txt(g, 287, 543, 'x', 17);
  
  
  rotLabel(g, 113, 350, 'ΔC / Tc (mJ mol⁻¹ K⁻²)', 19, 162, 'fig2-dc-y-title');
  const cp = mk('clipPath', {id: 'c2'}, g);
  mk('rect', {x: 148, y: 230, width: 276, height: 276}, cp);
  const fitLine = poly(g, fig2_fit_x, fig2_fit_y, sx, syD, '#000', 1.8, null, 'fig2-fit-line');
  fitLine.setAttribute('clip-path', 'url(#c2)');
  fig2_dc_x.forEach((v, i) => {
    const e1 = mk('line', {x1: sx(v), x2: sx(v), y1: syD(fig2_dc_val[i] - fig2_dc_err[i]), y2: syD(fig2_dc_val[i] + fig2_dc_err[i]), stroke: RED, 'stroke-width': 1.5}, g);
    
    
    const e2 = mk('line', {x1: sx(v - 0.012), x2: sx(v + 0.012), y1: syD(fig2_dc_val[i]), y2: syD(fig2_dc_val[i]), stroke: RED, 'stroke-width': 1.5}, g);
    
    
  });
  scatter(g, fig2_dc_x, fig2_dc_val, sx, syD, 'c', RED, 4.5, true, 'fig2-dc-point');
  // inset
  const gi = mk('g', {}, g);
  
  
  const ix = lin(23, 31, 296, 414), iy = lin(0, 3, 358, 257);
  frame(gi, 296, 241, 414, 358, 'fig2-inset-frame');
  xTicks(gi, fig2in_xticks, ['24', '26', '28', '30'], ix, 241, 358, 4, 369, 9, 'fig2-inset-x-axis');
  yTicks(gi, fig2in_yticks, ['0', '1', '2', '3'], iy, 296, 414, 4, 292, 9, 'fig2-inset-y-axis');
  rotLabel(gi, 284, 300, 'ΔC (J mol⁻¹ K⁻¹)', 8, 60, 'fig2-inset-y-title');
  const it = txt(gi, 356, 382, 'Tc (K)', 9);
  
  
  poly(gi, fig2in_fit_tc, fig2in_fit_dc, ix, iy, RED, 1.3, null, 'fig2-inset-fit-line');
  scatter(gi, fig2in_tc, fig2in_dc, ix, iy, 's', '#000', 3, true, 'fig2-inset-point');
})();

// ---------------- FIG 3 ----------------
(function () {
  const p = document.getElementById('p2');
  const g = mk('g', {}, p);
  
  
  const cols = [[530, 623], [635, 728], [741, 834]];
  const rows = [[87, 243], [253, 410]];
  for (let k = 0; k < 6; k++) {
    const c = cols[k % 3], r = rows[Math.floor(k / 3)];
    const sx = lin(0, 5, c[0], c[1]), sy = lin(0, 1, r[1], r[0]);
    const pg = mk('g', {}, g);
    
    
    frame(pg, c[0], r[0], c[1], r[1], 'fig3-panel-frame');
    xTicks(pg, fig3_xticks, k >= 3 ? fig3_xticks.map(String) : null, sx, r[0], r[1], 4, 421, 10, 'fig3-x-axis');
    yTicks(pg, fig3_yticks, k % 3 === 0 ? fig3_ytickLabels : null, sy, c[0], c[1], 4, c[0] - 3, 9, 'fig3-y-axis');
    poly(pg, fig3_fit_T, fig3_fit_A[k], sx, sy, RED, 1.2, null, 'fig3-lk-fit-line');
    fig3_pts_T[k].forEach((v, i) => {
      const eb = mk('line', {x1: sx(v), x2: sx(v), y1: sy(fig3_pts_A[k][i] - 0.035), y2: sy(fig3_pts_A[k][i] + 0.035), stroke: '#9a9af0', 'stroke-width': 1}, pg);
      
      
    });
    scatter(pg, fig3_pts_T[k], fig3_pts_A[k], sx, sy, 'c', BLUE, 2.6, true, 'fig3-point');
    const top = k < 3;
    const ax = top ? c[1] - 8 : c[0] + 8, an = top ? 'end' : 'start';
    const y1 = top ? 103 : 388, y2 = top ? 116 : 400;
    const t1 = txt(pg, ax, y1, fig3_field[k], 10, an);
    
    
    const t2 = txt(pg, ax, y2, fig3_xlabel[k], 10, an);
    
    
    if (k >= 3) {
      const tt = txt(pg, (c[0] + c[1]) / 2, 439, 'T (K)', 11);
      
      
    }
    if (k % 3 === 0) rotLabel(pg, 505, (r[0] + r[1]) / 2, 'FFT Amplitude (a.u.)', 10, 100, 'fig3-y-axis-title');
  }
})();

// ---------------- FIG 4 ----------------
(function () {
  const p = document.getElementById('p3');
  const g = mk('g', {}, p);
  
  
  const sx = lin(0, 1, 147, 425), sy = lin(0, 4, 383, 92);
  frame(g, 147, 92, 439, 383, 'fig4-plot-frame');
  xTicks(g, fig4_xticks, fig4_xtickLabels, sx, 92, 383, 6, 402, 16, 'fig4-x-axis');
  yTicks(g, fig4_yticks, fig4_ytickLabels, sy, 147, 439, 6, 140, 16, 'fig4-y-axis');
  const xt = txt(g, 292, 420, 'x', 17);
  
  
  rotLabel(g, 116, 238, 'm* / me', 19, 58, 'fig4-y-axis-title');
  // Fermi-surface inset (decorative)
  const fs = mk('g', {}, g);
  
  
  const box = mk('path', {d: 'M176,325 L250,265 L330,275 L330,350 L255,367 L176,340 Z M250,265 L255,330 M176,325 L255,330 L330,350', fill: 'none', stroke: '#999', 'stroke-width': 0.8}, fs);
  
  
  const cyl = [[203, 256, 38, 70, '#e6e01e'], [161, 292, 44, 68, '#e6e01e'], [228, 279, 40, 65, '#2233c8'], [256, 304, 40, 61, '#35c6cf'], [295, 271, 36, 66, '#35c6cf']];
  cyl.forEach(c => {
    const b = mk('path', {d: 'M' + c[0] + ',' + (c[1] + 4) + ' Q' + (c[0] + c[2] / 2) + ',' + (c[1] + c[3] / 2) + ' ' + c[0] + ',' + (c[1] + c[3]) + ' L' + (c[0] + c[2]) + ',' + (c[1] + c[3]) + ' Q' + (c[0] + c[2] / 2) + ',' + (c[1] + c[3] / 2) + ' ' + (c[0] + c[2]) + ',' + (c[1] + 4) + ' Z', fill: c[4], stroke: '#777', 'stroke-width': 0.6}, fs);
    
    
    const e = mk('ellipse', {cx: c[0] + c[2] / 2, cy: c[1] + 4, rx: c[2] / 2, ry: 4, fill: c[4], stroke: '#555', 'stroke-width': 0.6}, fs);
    
    
  });
  const red = mk('path', {d: 'M229,283 L229,340 M267,283 L267,340', stroke: RED, 'stroke-width': 2}, fs);
  
  
  const orb = mk('path', {d: 'M166,334 Q183,340 201,334 M166,344 Q183,350 201,344 M300,310 Q313,315 327,310', fill: 'none', stroke: '#000', 'stroke-width': 1.2}, fs);
  
  
  const ta = txt(fs, 336, 312, 'α', 16, 'middle', {style: 'font-family:Liberation Serif,serif'});
  
  
  const tb = txt(fs, 161, 337, 'β', 16, 'middle', {style: 'font-family:Liberation Serif,serif'});
  
  
  // data
  const cp = mk('clipPath', {id: 'c4'}, g);
  mk('rect', {x: 147, y: 92, width: 292, height: 291}, cp);
  const fl = poly(g, fig4_fit_x, fig4_fit_m, sx, sy, '#000', 1.6, null, 'fig4-fit-line');
  fl.setAttribute('clip-path', 'url(#c4)');
  scatter(g, fig4_new_x, fig4_new_m, sx, sy, 'c', RED, 4.2, true, 'fig4-new-point');
  scatter(g, fig4_old_x, fig4_old_m, sx, sy, 'c', '#2a3ae0', 4.2, false, 'fig4-previous-point');
  const fla = txt(g, 352, 126, '1.0 – 0.91 ln(x – 0.30)', 17, 'middle', {textLength: 165, lengthAdjust: 'spacingAndGlyphs'});
  
  
  const ar = mk('path', {d: 'M334,133 L284,188 M284,188 L286,177 M284,188 L293,183', fill: 'none', stroke: '#000', 'stroke-width': 1.4}, g);
  
  
})();

// ---------------- FIG 5 ----------------
(function () {
  const p = document.getElementById('p3');
  const g = mk('g', {}, p);
  
  
  const sx = lin(0.2, 0.8, 599, 828), sy = lin(0, 10, 363, 129);
  frame(g, 561, 82, 829, 363, 'fig5-plot-frame');
  xTicks(g, fig5_xticks, fig5_xtickLabels, sx, 82, 363, 6, 386, 17, 'fig5-x-axis');
  yTicks(g, fig5_yticks, fig5_ytickLabels, sy, 561, 829, 6, 553, 17, 'fig5-y-axis');
  const xt = txt(g, 697, 408, 'x', 20);
  
  
  rotLabel(g, 530, 228, 'm* / mb', 21, 62, 'fig5-y-axis-title');
  poly(g, fig5_guide_x, fig5_guide_m, sx, sy, '#666', 1.5, '5,4', 'fig5-guide-line');
  scatter(g, fig5_lam_x, fig5_lam_m, sx, sy, 't', ORANGE, 5, true, 'fig5-lambda-point');
  scatter(g, fig5_dhva_x, fig5_dhva_m, sx, sy, 's', '#000', 4.5, true, 'fig5-dhva-point');
  scatter(g, fig5_dc_x, fig5_dc_m, sx, sy, 'c', BLUE, 5, true, 'fig5-dc-point');
  // legend
  const lg = mk('g', {}, g);
  
  
  const m1 = marker(lg, 717, 112, 'c', BLUE, 5, true);
  
  
  const t1 = txt(lg, 744, 119, 'ΔC', 21, 'start');
  
  
  const m2 = marker(lg, 717, 136, 's', '#000', 4.5, true);
  
  
  const t2 = txt(lg, 744, 143, 'dHvA mβ', 21, 'start');
  
  
  const m3 = marker(lg, 717, 168, 't', ORANGE, 5, true);
  
  
  const t3 = txt(lg, 744, 176, 'λ²', 21, 'start');
  
  
})();
</script>
</body></html>
